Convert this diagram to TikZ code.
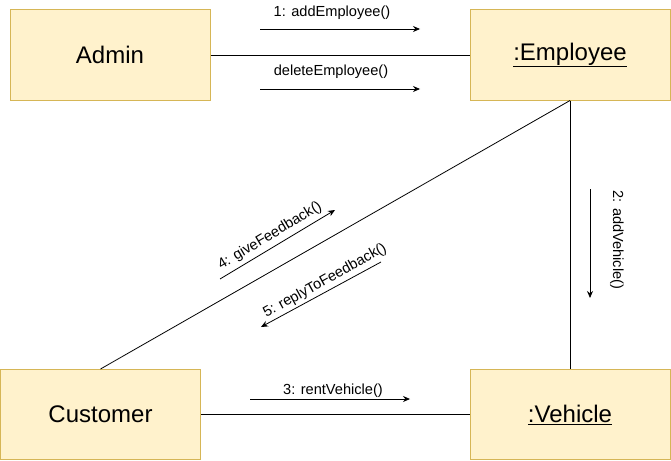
\documentclass[tikz,border=0pt]{standalone}
\usepackage{fontspec}
\setmainfont{Liberation Sans}
\usetikzlibrary{arrows.meta}
\definecolor{boxfill}{HTML}{FFF2CC}
\definecolor{boxline}{HTML}{D6B656}
\begin{document}
\begin{tikzpicture}[x=1pt,y=-1pt,
  obj/.style={draw=boxline,fill=boxfill,line width=1pt,minimum width=200pt,minimum height=90pt,inner sep=0pt,font=\fontsize{24}{28}\selectfont},
  link/.style={draw=black,line width=0.8pt},
  msg/.style={draw=black,line width=0.8pt,-{Stealth[length=7pt,width=6pt]}},
  lbl/.style={font=\fontsize{14.6}{16}\selectfont,inner sep=0pt}]
\useasboundingbox (0,0) rectangle (671,460);
\node[obj] (admin) at (110,55) {Admin};
\node[obj] (emp) at (570,55) {\underline{:Employee}};
\node[obj] (cust) at (100.5,414.5) {Customer};
\node[obj] (veh) at (570,414.5) {\underline{:Vehicle}};
\draw[link] (admin.east) -- (emp.west);
\draw[link] (emp.south) -- (veh.north);
\draw[link] (emp.south) -- (cust.north);
\draw[link] (cust.east) -- (veh.west);
% messages
\coordinate (m1a) at (260,29); \coordinate (m1b) at (420,29);
\draw[msg] (m1a) -- (m1b);
\node[lbl] (l1) at (332,13) {1: addEmployee()};
\coordinate (mda) at (260,89); \coordinate (mdb) at (420,89);
\draw[msg] (mda) -- (mdb);
\node[lbl] (ld) at (331,72) {deleteEmployee()};
\coordinate (m2a) at (590,189); \coordinate (m2b) at (590,298);
\draw[msg] (m2a) -- (m2b);
\node[lbl,rotate=-90] (l2) at (617,240) {2: addVehicle()};
\coordinate (m3a) at (250,399); \coordinate (m3b) at (410,399);
\draw[msg] (m3a) -- (m3b);
\node[lbl] (l3) at (333,391) {3: rentVehicle()};
\coordinate (m4a) at (220,279); \coordinate (m4b) at (335,210);
\draw[msg] (m4a) -- (m4b);
\node[lbl,rotate=31] (l4) at (270,236) {4: giveFeedback()};
\coordinate (m5a) at (381,262); \coordinate (m5b) at (261,327);
\draw[msg] (m5a) -- (m5b);
\node[lbl,rotate=29] (l5) at (325,281) {5: replyToFeedback()};
\end{tikzpicture}
\end{document}
